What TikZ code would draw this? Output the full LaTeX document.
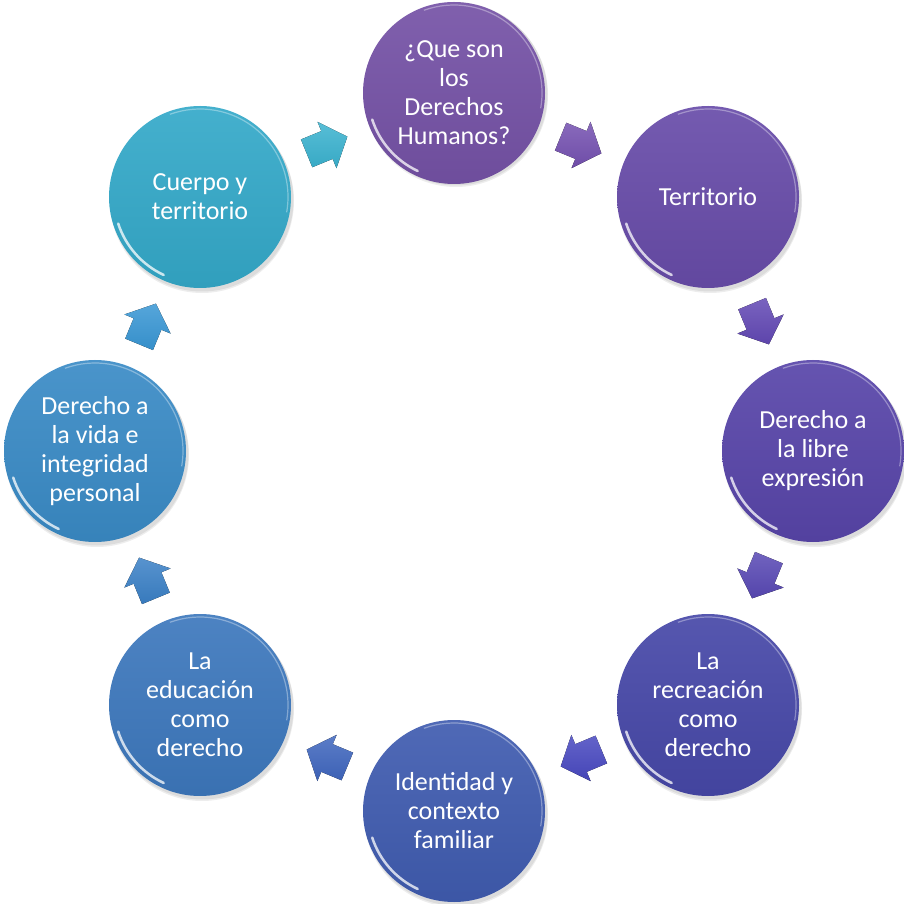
\documentclass[tikz,border=0pt]{standalone}
\usepackage{fontspec}
\setmainfont{Carlito}
\usetikzlibrary{calc}
\definecolor{cA}{HTML}{7552A6}
\definecolor{cB}{HTML}{684CA9}
\definecolor{cC}{HTML}{5845A9}
\definecolor{cD}{HTML}{4748A8}
\definecolor{cE}{HTML}{405CB0}
\definecolor{cF}{HTML}{3D78BD}
\definecolor{cG}{HTML}{3A8BC6}
\definecolor{cH}{HTML}{34A9C9}
\definecolor{aH}{HTML}{3AB2CF}
\definecolor{aA}{HTML}{7450B0}
\definecolor{aB}{HTML}{6248B4}
\definecolor{aC}{HTML}{5848B4}
\definecolor{aD}{HTML}{4848C0}
\definecolor{aE}{HTML}{3F66BE}
\definecolor{aF}{HTML}{3A80C6}
\definecolor{aG}{HTML}{3896D4}
\tikzset{
  bubble/.style={circle, minimum size=182pt, inner sep=0pt, align=center,
    text=white, font=\fontsize{26}{29}\selectfont,
    top color=#1!92!white, bottom color=#1!94!black, draw=none},
  pics/blockarrow/.style={code={
    \fill[top color=#1!85!white, bottom color=#1!95!black]
      (-22,-15) -- (0,-15) -- (0,-25) -- (22,0) -- (0,25) -- (0,15) -- (-22,15) -- cycle;}},
  gloss/.style={white, line width=2.5pt, line cap=round, opacity=0.75},
  rim/.style={white, line width=1.2pt, opacity=0.35},
  shadowc/.style={black, opacity=0.07}
}
\begin{document}
\begin{tikzpicture}[x=1pt,y=1pt]
\useasboundingbox (0,0) rectangle (904,903);
% soft shadows
\foreach \px/\py in {454/812, 708/706, 813/452, 708/198, 454/92, 200/198, 95/452, 200/706}{
  \fill[shadowc] (\px+2,\py-4) circle (92);
  \fill[shadowc] (\px+2,\py-3) circle (91.5);
}
\node[bubble=cA] (c1) at (454,810) {¿Que son\\los\\Derechos\\Humanos?};
\node[bubble=cB] (c2) at (708,706) {Territorio};
\node[bubble=cC] (c3) at (813,452) {Derecho a\\la libre\\expresión};
\node[bubble=cD] (c4) at (708,198) {La\\recreación\\como\\derecho};
\node[bubble=cE] (c5) at (454,92) {Identidad y\\contexto\\familiar};
\node[bubble=cF] (c6) at (200,198) {La\\educación\\como\\derecho};
\node[bubble=cG] (c7) at (95,452) {Derecho a\\la vida e\\integridad\\personal};
\node[bubble=cH] (c8) at (200,706) {Cuerpo y\\territorio};
% gloss highlights
\foreach \n in {c1,c2,c3,c4,c5,c6,c7,c8}{
  \draw[gloss] ([shift={(198:86)}]\n.center) arc[start angle=198, end angle=245, radius=86];
  \draw[rim] ([shift={(-10:88)}]\n.center) arc[start angle=-10, end angle=110, radius=88];
}
% block arrows
\path (c8.center) -- pic[pos=0.5, sloped, allow upside down]{blockarrow=aH} (c1.center);
\path (c1.center) -- pic[pos=0.5, sloped, allow upside down]{blockarrow=aA} (c2.center);
\path (c2.center) -- pic[pos=0.5, sloped, allow upside down]{blockarrow=aB} (c3.center);
\path (c3.center) -- pic[pos=0.5, sloped, allow upside down]{blockarrow=aC} (c4.center);
\path (c4.center) -- pic[pos=0.5, sloped, allow upside down]{blockarrow=aD} (c5.center);
\path (c5.center) -- pic[pos=0.5, sloped, allow upside down]{blockarrow=aE} (c6.center);
\path (c6.center) -- pic[pos=0.5, sloped, allow upside down]{blockarrow=aF} (c7.center);
\path (c7.center) -- pic[pos=0.5, sloped, allow upside down]{blockarrow=aG} (c8.center);
\end{tikzpicture}
\end{document}
